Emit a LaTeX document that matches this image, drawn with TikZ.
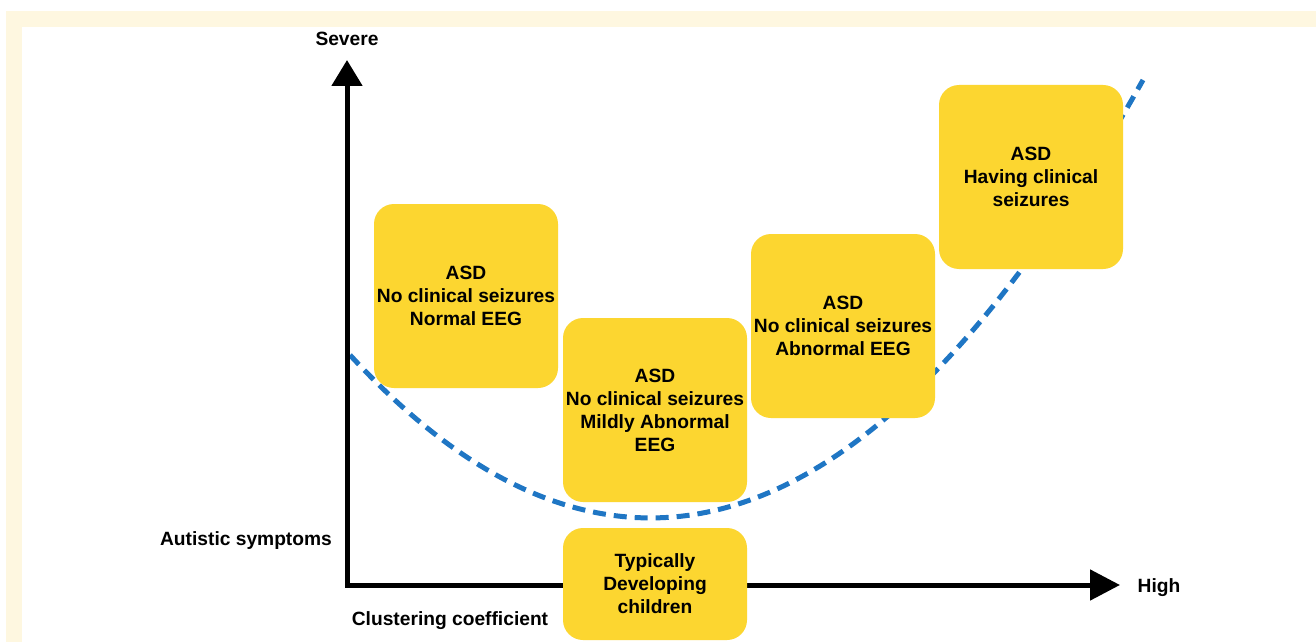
\documentclass[tikz,border=0pt]{standalone}
\usepackage{fontspec}
\setmainfont{Liberation Sans}
\usetikzlibrary{arrows.meta}
\usepackage{xcolor}
\definecolor{boxyellow}{HTML}{FCD630}
\definecolor{curveblue}{HTML}{1F76C4}
\definecolor{framecream}{HTML}{FEF7E0}

\begin{document}
\begin{tikzpicture}[x=0.5pt,y=-0.5pt,
		group/.style={fill=boxyellow, rounded corners=10pt, minimum width=92pt, minimum height=92pt, inner sep=0pt, align=center, font=\fontsize{9.6}{11.5}\selectfont\bfseries},
		axislabel/.style={font=\fontsize{9.6}{11.5}\selectfont\bfseries},
		axis/.style={line width=2.5pt, line join=miter, {Triangle[length=13pt,width=15pt]}-{Triangle[length=15pt,width=15pt]}},
		trend/.style={color=curveblue, line width=2.5pt, dash pattern=on 6.5pt off 4pt}]
		\useasboundingbox (0,0) rectangle (1316,642);
		\begin{scope}
			\fill [framecream] (6,11) rectangle (1316,642);
			\fill [white] (22,27) rectangle (1316,642);
		\end{scope}
		%
		\coordinate (O) at (347,585);
		\coordinate (Ytop) at (347,60);
		\coordinate (Xend) at (1120,585);
		\coordinate (Cl) at (350,355);
		\coordinate (Cr) at (1143,80);
		%
		\draw [trend] (Cl) .. controls (614.3,641.7) and (878.7,550) .. (Cr);
		%
		\draw [axis] (Ytop) -- (O) -- (Xend);
		%
		\node (severe) [axislabel] at (347,39) {Severe};
		\node (high) [axislabel] at (1159,588) {High};
		\node (symptoms) [axislabel] at (246,541) {Autistic symptoms};
		\node (clustering) [axislabel] at (450,621) {Clustering coefficient};
		%
		\node (normal) [group] at (466,296) {ASD\\No clinical seizures\\Normal EEG};
		\node (mild) [group] at (655,410) {ASD\\No clinical seizures\\Mildly Abnormal\\EEG};
		\node (abnormal) [group] at (843,326) {ASD\\No clinical seizures\\Abnormal EEG};
		\node (seizures) [group] at (1031,177) {ASD\\Having clinical\\seizures};
		%
		\node (typical) [group, minimum height=56pt] at (655,584) {Typically\\Developing\\children};
	\end{tikzpicture}
\end{document}
